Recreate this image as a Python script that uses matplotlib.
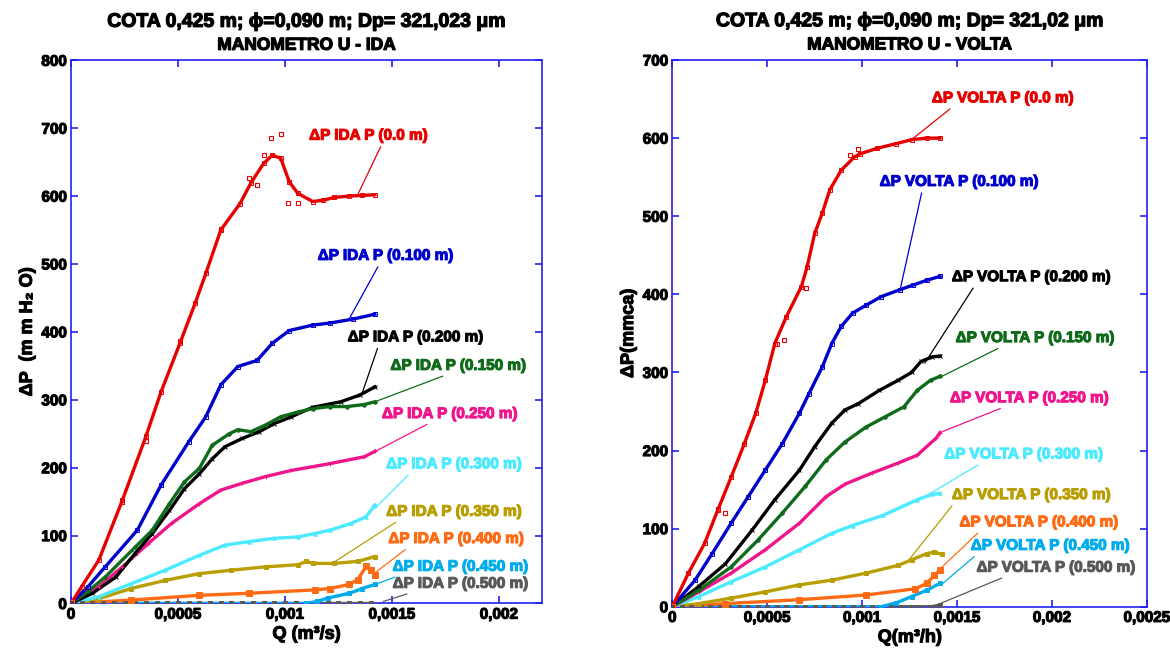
import matplotlib
matplotlib.use("Agg")
import matplotlib.pyplot as plt
import matplotlib.patheffects as pe

plt.rcParams['font.family'] = ['Liberation Sans', 'DejaVu Sans']
plt.rcParams['font.weight'] = 'bold'

# ---------------- data: IDA (left) ----------------
red_ida_x = [0, 0.00005, 0.00013, 0.00024, 0.00035, 0.00042, 0.00051, 0.00058, 0.00063, 0.0007, 0.00079,
             0.00084, 0.0009, 0.00094, 0.00098, 0.00102, 0.00106, 0.00113, 0.00118, 0.00123, 0.0013, 0.00136, 0.00142]
red_ida_y = [0, 25, 64, 152, 246, 311, 384, 442, 486, 550, 589, 619, 648, 660, 656, 621, 604, 592, 594, 598, 600, 601, 602]
red_ida_pts_x = [0.000935, 0.000981, 0.001016, 0.00106, 0.00083, 0.00087, 0.0009, 0.0007, 0.00051, 0.00035, 0.00024]
red_ida_pts_y = [686, 691, 590, 590, 626, 617, 660, 552, 386, 240, 150]

blue_ida_x = [0, 0.00008, 0.00016, 0.00031, 0.00042, 0.00055, 0.00063, 0.0007, 0.00078, 0.00087, 0.00094, 0.00102,
              0.00113, 0.00121, 0.00132, 0.00142]
blue_ida_y = [0, 25, 54, 108, 174, 238, 275, 322, 349, 358, 383, 402, 410, 413, 419, 426]

green_ida_x = [0, 0.00008, 0.00016, 0.0003, 0.00038, 0.00046, 0.00053, 0.0006, 0.00066, 0.00074, 0.00078, 0.00084,
               0.00091, 0.00098, 0.00106, 0.00113, 0.00121, 0.00129, 0.00137, 0.00142]
green_ida_y = [0, 18, 39, 83, 108, 147, 179, 199, 233, 250, 256, 253, 263, 275, 282, 287, 290, 290, 293, 297]

black_ida_x = [0, 0.0001, 0.00021, 0.0003, 0.00038, 0.00046, 0.00053, 0.0006, 0.00066, 0.00072, 0.0008, 0.00088,
               0.00095, 0.00103, 0.00113, 0.00126, 0.00135, 0.00142]
black_ida_y = [0, 15, 39, 74, 103, 137, 169, 191, 213, 231, 243, 253, 265, 275, 289, 297, 307, 319]

pink_ida_x = [0, 0.00013, 0.00024, 0.00036, 0.00047, 0.0006, 0.0007, 0.0008, 0.00091, 0.00103, 0.00114, 0.00121,
              0.00137, 0.00142]
pink_ida_y = [0, 25, 54, 88, 118, 147, 167, 177, 187, 196, 202, 206, 216, 224]

cyan_ida_x = [0, 0.00013, 0.00028, 0.00044, 0.0006, 0.00072, 0.00083, 0.00095, 0.00106, 0.00114, 0.00121, 0.00131,
              0.00138, 0.00142]
cyan_ida_y = [0, 10, 29, 49, 71, 86, 91, 96, 98, 103, 108, 118, 128, 145]

olive_ida_x = [0, 0.00013, 0.00028, 0.00044, 0.0006, 0.00075, 0.00091, 0.00106, 0.0011, 0.00113, 0.00123, 0.00134, 0.00142]
olive_ida_y = [0, 7, 22, 34, 44, 49, 54, 57, 62, 59, 59, 62, 69]

orange_ida_x = [0, 0.00028, 0.0006, 0.00083, 0.00114, 0.00121, 0.0013, 0.00134, 0.00138, 0.0014, 0.00142]
orange_ida_y = [0, 5, 12, 15, 20, 22, 28, 35, 55, 50, 42]

sky_ida_x = [0, 0.0011, 0.00115, 0.0012, 0.0013, 0.00136, 0.00142]
sky_ida_y = [0, 0, 3, 8, 15, 22, 28]

gray_ida_x = [0, 0.00005, 0.0001, 0.00015, 0.0002, 0.00025, 0.0003, 0.00035, 0.0004, 0.00045, 0.0005, 0.00055,
              0.0006, 0.00065, 0.0007, 0.00075, 0.0008, 0.00085, 0.0009, 0.00095, 0.001, 0.00105, 0.0011,
              0.00115, 0.0012, 0.00125, 0.0013, 0.00135, 0.0014]
gray_ida_y = [0, 0, 0, 0, 0, 0, 0, 0, 0, 0, 0, 0, 0, 0, 0, 0, 0, 0, 0, 0, 0, 0, 0, 0, 0, 0, 0, 0, 0]

# ---------------- data: VOLTA (right) ----------------
red_volta_x = [0, 0.000085, 0.00017, 0.00024, 0.00031, 0.00038, 0.00044, 0.00049, 0.00054, 0.0006, 0.00068, 0.00071,
               0.00075, 0.00079, 0.00083, 0.00089, 0.00096, 0.00099, 0.00108, 0.00118, 0.00126, 0.00134, 0.00141]
red_volta_y = [0, 43, 81, 124, 166, 209, 248, 290, 337, 371, 410, 435, 478, 504, 534, 559, 576, 580, 587, 593, 598,
               600, 600]
red_volta_pts_x = [0.000278, 0.000551, 0.000586, 0.000704, 0.000937, 0.000977, 0.000243]
red_volta_pts_y = [120, 337, 342, 408, 579, 586, 125]

blue_volta_x = [0, 0.00012, 0.00021, 0.00031, 0.0004, 0.00049, 0.00058, 0.00067, 0.00072, 0.00079, 0.00084, 0.00089,
                0.00095, 0.00102, 0.0011, 0.0012, 0.00127, 0.00134, 0.00141]
blue_volta_y = [0, 34, 68, 107, 141, 175, 209, 248, 273, 307, 337, 359, 376, 386, 397, 406, 412, 418, 423]

black_volta_x = [0, 0.00014, 0.00028, 0.00042, 0.00054, 0.00067, 0.00075, 0.00084, 0.00091, 0.00098, 0.00109,
                 0.00119, 0.00126, 0.00131, 0.00137, 0.00141]
black_volta_y = [0, 26, 55, 98, 137, 175, 205, 235, 252, 260, 277, 290, 300, 314, 320, 321]

green_volta_x = [0, 0.00014, 0.00031, 0.00045, 0.00058, 0.0007, 0.00081, 0.00091, 0.00102, 0.00112, 0.00122,
                 0.00129, 0.00136, 0.00141]
green_volta_y = [0, 21, 51, 85, 120, 154, 188, 211, 230, 243, 256, 277, 290, 295]

pink_volta_x = [0, 0.00014, 0.00031, 0.00049, 0.00067, 0.00081, 0.00091, 0.00105, 0.00119, 0.00129, 0.00139, 0.00141]
pink_volta_y = [0, 19, 43, 73, 107, 141, 157, 171, 184, 194, 216, 223]

cyan_volta_x = [0, 0.00014, 0.00031, 0.00049, 0.00067, 0.00084, 0.00095, 0.00111, 0.00129, 0.00137, 0.00141]
cyan_volta_y = [0, 13, 32, 51, 73, 94, 104, 117, 137, 144, 145]

olive_volta_x = [0, 0.00014, 0.00031, 0.00049, 0.00067, 0.00084, 0.00102, 0.00119, 0.00126, 0.00134, 0.00138, 0.00142]
olive_volta_y = [0, 4, 11, 19, 28, 34, 43, 53, 60, 68, 70, 67]

orange_volta_x = [0, 0.00028, 0.00067, 0.00102, 0.00128, 0.00134, 0.00138, 0.00141]
orange_volta_y = [0, 4, 9, 15, 23, 30, 40, 47]

sky_volta_x = [0, 0.0011, 0.00118, 0.00126, 0.00134, 0.00141]
sky_volta_y = [0, 0, 5, 13, 21, 30]

gray_volta_x = [0, 0.00005, 0.0001, 0.00015, 0.0002, 0.00025, 0.0003, 0.00035, 0.0004, 0.00045, 0.0005, 0.00055,
                0.0006, 0.00065, 0.0007, 0.00075, 0.0008, 0.00085, 0.0009, 0.00095, 0.001, 0.00105, 0.0011,
                0.00115, 0.0012, 0.00125, 0.0013, 0.00136, 0.00141]
gray_volta_y = [0, 0, 0, 0, 0, 0, 0, 0, 0, 0, 0, 0, 0, 0, 0, 0, 0, 0, 0, 0, 0, 0, 0, 0, 0, 0, 0, 0, 2]

# ticks / labels
ida_xticks = [0, 0.0005, 0.001, 0.0015, 0.002]
ida_xticklabels = ['0', '0,0005', '0,001', '0,0015', '0,002']
ida_yticks = [0, 100, 200, 300, 400, 500, 600, 700, 800]
volta_xticks = [0, 0.0005, 0.001, 0.0015, 0.002, 0.0025]
volta_xticklabels = ['0', '0,0005', '0,001', '0,0015', '0,002', '0,0025']
volta_yticks = [0, 100, 200, 300, 400, 500, 600, 700]

cotas = ['0.0', '0.100', '0.200', '0.150', '0.250', '0.300', '0.350', '0.400', '0.450', '0.500']
colors = ['#E60000', '#0000CC', '#000000', '#0F6B1A', '#F0158C', '#4BEAFF', '#B89E00', '#FF6A14', '#00ACEB', '#595959']
markers = ['s', 's', 'x', 'o', '+', '^', 's', 's', 's', 's']
mfcs = ['none', 'none', None, None, None, None, None, None, None, None]
msizes = [3, 3, 3, 2.5, 3.5, 2.5, 3, 4, 2.5, 3]

# label centres, arrow targets (data coords) and where the leader leaves the text
ida_text_pos = [(0.00139, 689), (0.00147, 512), (0.00161, 392), (0.00181, 350), (0.00177, 279),
                (0.00179, 205), (0.00179, 135), (0.00180, 95), (0.00182, 54), (0.00182, 29)]
ida_arrow_to = [(0.00134, 602), (0.0013, 419), (0.00136, 309), (0.00142, 297), (0.00141, 222),
                (0.00142, 140), (0.00122, 59), (0.00142, 45), (0.00133, 17), (0.00146, 3)]
ida_relx = [0.62, 0.46, 0.23, 0.45, 0.38, 0.19, 0.11, 0.16, 0.08, 0.18]
volta_text_pos = [(0.00174, 651), (0.00151, 544), (0.00189, 422), (0.00191, 344), (0.00188, 267),
                  (0.00185, 195), (0.00189, 143), (0.00193, 108), (0.00199, 78), (0.00202, 50)]
volta_arrow_to = [(0.00126, 598), (0.0012, 406), (0.00133, 312), (0.00142, 295), (0.00142, 224),
                  (0.00131, 138), (0.00124, 58), (0.0014, 46), (0.00142, 29), (0.00139, 2)]
volta_relx = [0.16, 0.27, 0.15, 0.31, 0.37, 0.25, 0.02, 0.14, 0.05, 0.21]

ida_series = [(red_ida_x, red_ida_y), (blue_ida_x, blue_ida_y), (black_ida_x, black_ida_y),
              (green_ida_x, green_ida_y), (pink_ida_x, pink_ida_y), (cyan_ida_x, cyan_ida_y),
              (olive_ida_x, olive_ida_y), (orange_ida_x, orange_ida_y), (sky_ida_x, sky_ida_y),
              (gray_ida_x, gray_ida_y)]
volta_series = [(red_volta_x, red_volta_y), (blue_volta_x, blue_volta_y), (black_volta_x, black_volta_y),
                (green_volta_x, green_volta_y), (pink_volta_x, pink_volta_y), (cyan_volta_x, cyan_volta_y),
                (olive_volta_x, olive_volta_y), (orange_volta_x, orange_volta_y), (sky_volta_x, sky_volta_y),
                (gray_volta_x, gray_volta_y)]


def heavy(c, w=0.7):
    # fake a heavier (Arial Black like) face
    return [pe.withStroke(linewidth=w, foreground=c)]


fig = plt.figure(figsize=(11.7, 6.51), dpi=100)
ax1 = fig.add_axes([0.0607, 0.073, 0.4023, 0.8344])
ax2 = fig.add_axes([0.5746, 0.068, 0.4057, 0.8398])


def draw(ax, series, word, text_pos, arrow_to, relx, pts):
    order = [9, 8, 7, 6, 5, 4, 2, 3, 1, 0]
    for i in order:
        x, y = series[i]
        ax.plot(x, y, color=colors[i], lw=2.4, zorder=3, solid_joinstyle='round')
        ax.plot(x, y, linestyle='none', marker=markers[i], ms=msizes[i], color=colors[i],
                mfc=mfcs[i] if mfcs[i] else colors[i], mew=0.7, zorder=4)
    ax.plot(pts[0], pts[1], linestyle='none', marker='s', ms=3, mfc='none', mec=colors[0], mew=0.8, zorder=4)
    for i in range(10):
        ax.annotate('ΔP %s P (%s m)' % (word, cotas[i]), xy=arrow_to[i], xytext=text_pos[i],
                    color=colors[i], fontsize=11, fontweight='bold', ha='center', va='center',
                    path_effects=heavy(colors[i], 0.8),
                    arrowprops=dict(arrowstyle='-', color=colors[i], lw=0.9, shrinkA=1, shrinkB=0,
                                    relpos=(relx[i], 0.0)),
                    zorder=5)


def style(ax, xlim, ylim, xticks, xlabels, yticks):
    ax.set_xlim(*xlim)
    ax.set_ylim(*ylim)
    ax.set_xticks(xticks)
    ax.set_xticklabels(xlabels)
    ax.set_yticks(yticks)
    for s in ax.spines.values():
        s.set_color('#2020F0')
        s.set_linewidth(1.2)
    ax.tick_params(direction='in', length=5, width=1.2, color='#2020F0', top=True, right=True,
                   labelsize=11, pad=3)
    for lab in ax.get_xticklabels() + ax.get_yticklabels():
        lab.set_fontweight('bold')
        lab.set_path_effects(heavy('black', 0.8))


def titles(ax, line1, line2):
    ax.text(0.5, 1.0 + 38 / 543, line1, transform=ax.transAxes, ha='center', va='center',
            fontsize=14, fontweight='bold', path_effects=heavy('black', 0.9))
    ax.text(0.5, 1.0 + 15 / 543, line2, transform=ax.transAxes, ha='center', va='center',
            fontsize=12.5, fontweight='bold', path_effects=heavy('black', 0.9))


draw(ax1, ida_series, 'IDA', ida_text_pos, ida_arrow_to, ida_relx, (red_ida_pts_x, red_ida_pts_y))
style(ax1, (0, 0.0022), (0, 800), ida_xticks, ida_xticklabels, ida_yticks)
titles(ax1, 'COTA 0,425 m; ϕ=0,090 m; Dp= 321,023 μm', 'MANOMETRO U - IDA')
ax1.set_xlabel('Q (m³/s)', fontsize=13, fontweight='bold', labelpad=3, path_effects=heavy('black', 0.8))
ax1.set_ylabel('ΔP  (m m H₂ O)', fontsize=13, fontweight='bold', labelpad=4, path_effects=heavy('black', 0.8))

draw(ax2, volta_series, 'VOLTA', volta_text_pos, volta_arrow_to, volta_relx, (red_volta_pts_x, red_volta_pts_y))
style(ax2, (0, 0.0025), (0, 700), volta_xticks, volta_xticklabels, volta_yticks)
titles(ax2, 'COTA 0,425 m; ϕ=0,090 m; Dp= 321,02 μm', 'MANOMETRO U - VOLTA')
ax2.set_xlabel('Q(m³/h)', fontsize=13, fontweight='bold', labelpad=3, path_effects=heavy('black', 0.8))
ax2.set_ylabel('ΔP(mmca)', fontsize=13, fontweight='bold', labelpad=4, path_effects=heavy('black', 0.8))

fig.savefig('out.png', dpi=100)
